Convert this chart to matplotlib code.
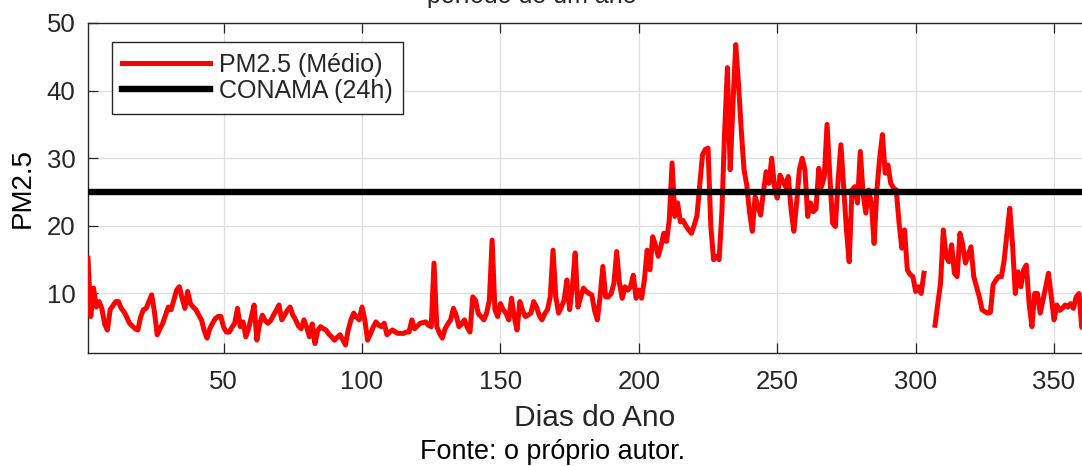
"""
PM2.5 medio diario ao longo do ano, com o limite CONAMA (24h).
"""

import matplotlib as mpl
import matplotlib.pyplot as plt
import numpy as np

nan = np.nan

dias = np.arange(1, 362)
pm25 = [
    15.2, 6.6, 10.8, 8.0, 8.8, 7.8, 5.5, 4.6, 7.6, 8.2,        # 1
    8.8, 8.8, 7.8, 7.3, 6.5, 5.6, 5.2, 4.8, 4.6, 6.5,          # 11
    7.6, 7.8, 8.8, 9.8, 7.3, 3.9, 4.8, 5.6, 6.8, 8.0,          # 21
    7.6, 9.0, 10.5, 11.0, 9.3, 7.8, 10.3, 8.5, 8.0, 7.6,       # 31
    6.8, 6.1, 4.5, 3.4, 4.8, 5.6, 6.3, 6.6, 6.6, 5.0,          # 41
    4.3, 4.3, 5.0, 5.6, 7.8, 5.1, 5.8, 3.6, 4.8, 6.5,          # 51
    8.3, 3.1, 5.5, 6.8, 6.0, 5.6, 6.0, 6.8, 7.5, 8.3,          # 61
    6.1, 6.8, 7.5, 8.0, 6.8, 6.1, 5.2, 4.8, 6.1, 5.0,          # 71
    3.6, 5.5, 2.6, 4.5, 5.1, 4.8, 4.6, 4.0, 3.6, 3.1,          # 81
    3.5, 3.9, 3.2, 2.4, 4.6, 6.1, 7.1, 6.5, 6.1, 8.0,          # 91
    6.1, 3.1, 4.0, 5.0, 5.8, 5.3, 5.1, 5.6, 3.9, 4.3,          # 101
    4.6, 4.3, 4.1, 4.1, 4.1, 4.3, 4.3, 6.1, 4.8, 5.2,          # 111
    5.6, 5.7, 5.8, 5.3, 5.1, 14.5, 5.1, 4.1, 3.4, 4.8,         # 121
    5.5, 6.1, 7.8, 6.8, 5.1, 5.5, 6.1, 5.0, 4.3, 9.5,          # 131
    9.0, 7.0, 6.6, 6.1, 7.1, 9.0, 17.9, 7.6, 6.6, 8.5,         # 141
    7.6, 7.1, 6.1, 9.3, 6.5, 4.6, 8.8, 7.5, 6.6, 6.8,          # 151
    7.1, 8.8, 8.0, 6.8, 6.1, 7.0, 7.6, 9.5, 16.4, 9.5,         # 161
    7.1, 8.0, 9.0, 12.0, 7.6, 11.0, 16.0, 8.0, 9.5, 10.8,      # 171
    10.3, 10.0, 9.8, 7.5, 6.1, 9.5, 14.0, 9.5, 9.5, 10.0,      # 181
    11.5, 16.2, 11.5, 9.3, 11.0, 10.5, 11.0, 12.7, 9.3, 10.5,  # 191
    9.3, 12.0, 16.4, 13.5, 18.4, 17.2, 15.5, 17.0, 18.9, 17.7, # 201
    20.9, 29.3, 21.4, 23.4, 20.6, 20.8, 20.0, 19.4, 18.9, 20.1,  # 211
    21.5, 26.0, 30.5, 31.3, 31.5, 20.0, 15.0, 15.5, 15.0, 22.0,  # 221
    34.0, 43.4, 28.3, 38.0, 46.8, 41.0, 34.2, 28.3, 26.0, 22.0,  # 231
    19.2, 24.3, 22.9, 21.6, 25.0, 28.0, 26.3, 30.0, 25.8, 24.1,  # 241
    27.5, 26.6, 25.8, 27.3, 22.4, 19.2, 23.4, 28.3, 30.0, 28.3,  # 251
    21.4, 23.4, 22.1, 22.5, 28.5, 25.8, 27.3, 35.0, 27.3, 20.4,  # 261
    19.9, 26.8, 32.0, 25.8, 19.4, 14.7, 25.3, 25.8, 23.4, 31.0,  # 271
    24.8, 21.9, 25.3, 23.4, 17.4, 25.3, 30.0, 33.5, 27.8, 29.0,  # 281
    26.3, 25.6, 25.3, 20.5, 16.7, 19.4, 13.5, 12.8, 12.5, 10.3,  # 291
    11.0, 10.0, 13.0, nan, nan, nan, 5.3, 8.5, 11.5, 19.4,       # 301
    15.5, 14.7, 17.2, 13.0, 12.5, 18.9, 17.2, 14.5, 15.7, 16.9,  # 311
    12.5, 11.0, 9.5, 7.6, 7.3, 7.1, 7.2, 11.3, 12.0, 12.5,       # 321
    12.5, 15.0, 18.9, 22.6, 17.2, 10.0, 13.2, 11.0, 13.5, 14.2,  # 331
    8.5, 5.1, 10.0, 10.0, 7.1, 9.0, 11.0, 13.0, 9.5, 6.1,        # 341
    8.3, 7.5, 7.8, 8.3, 8.0, 8.5, 7.8, 9.5, 10.0, 5.0,           # 351
    5.5,                                                          # 361
]
conama_24h = 25

xticks = [50, 100, 150, 200, 250, 300, 350]
yticks = [10, 20, 30, 40, 50]

cinza = '#262626'


def main():
    mpl.rcParams['font.family'] = ['Liberation Sans', 'DejaVu Sans']
    mpl.rcParams['text.color'] = cinza

    fig = plt.figure(figsize=(10.82, 4.66), dpi=100)
    ax = fig.add_axes([88 / 1082, 113 / 466, 994 / 1082, 330 / 466])

    ax.plot(dias, pm25, color='r', lw=3.6, label='PM2.5 (Médio)', zorder=3)
    ax.axhline(conama_24h, color='k', lw=4.6, label='CONAMA (24h)', zorder=4)

    ax.set_xlim(1, 360.1)
    ax.set_ylim(1.2, 50)
    ax.set_xticks(xticks)
    ax.set_yticks(yticks)
    ax.grid(True, color='#dedede', lw=0.9)
    ax.set_axisbelow(True)
    ax.tick_params(direction='in', length=7, width=0.9, colors=cinza,
                   labelsize=18.5, top=True, right=False)
    ax.tick_params(axis='x', pad=12)
    ax.tick_params(axis='y', pad=9)
    for side in ['left', 'bottom', 'top']:
        ax.spines[side].set_color(cinza)
        ax.spines[side].set_linewidth(1.0)
    ax.spines['right'].set_visible(False)

    fig.text(595 / 1082, 1 - 418 / 466, 'Dias do Ano', ha='center',
             va='center', fontsize=21.5)
    ax.set_ylabel('PM2.5', fontsize=20)
    ax.yaxis.set_label_coords(-0.066, 0.5)
    ax.yaxis.label.set_va('center')

    leg = ax.legend(loc='upper left', bbox_to_anchor=(0.024, 0.942),
                    borderaxespad=0, fontsize=18, fancybox=False,
                    framealpha=1, edgecolor=cinza, handlelength=3.5,
                    handletextpad=0.36, borderpad=0.42, labelspacing=0.1)
    leg.get_frame().set_linewidth(1.0)

    # titulo cortado no topo da imagem original
    fig.text(532 / 1082, 1 - 3 / 466, 'período de um ano', ha='center',
             va='baseline', fontsize=18)
    fig.text(553 / 1082, 1 - 452 / 466, 'Fonte: o próprio autor.',
             ha='center', va='center', fontsize=19.4, color='k')

    fig.savefig('out.png', dpi=100)


if __name__ == '__main__':
    main()
